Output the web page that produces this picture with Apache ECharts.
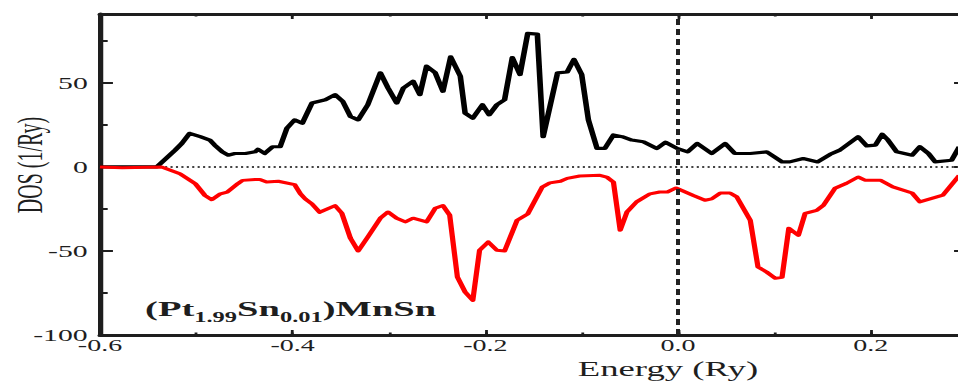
<!DOCTYPE html>
<html>
<head>
<meta charset="utf-8">
<script src="https://cdn.jsdelivr.net/npm/echarts@6/dist/echarts.min.js"></script>
<style>
  html, body { margin: 0; padding: 0; background: #fff; }
  #wrap { width: 958px; height: 382px; overflow: hidden; position: relative; }
  /* the figure is drawn narrow and stretched horizontally; its right edge runs past the frame */
  #chart { width: 560px; height: 382px; transform: scaleX(1.75); transform-origin: 0 0; }
</style>
</head>
<body>
<div id="wrap"><div id="chart"></div></div>
<script>
// Spin-up DOS (positive) and spin-down DOS (negative), energy in Ry
const upEnergy = [-0.600,-0.560,-0.541,-0.522,-0.515,-0.507,-0.496,-0.486,-0.481,-0.473,-0.467,-0.460,-0.449,-0.439,-0.436,-0.429,-0.421,-0.413,-0.406,-0.398,-0.390,-0.380,-0.366,-0.356,-0.348,-0.340,-0.332,-0.322,-0.309,-0.301,-0.292,-0.285,-0.275,-0.268,-0.261,-0.252,-0.244,-0.236,-0.226,-0.221,-0.213,-0.203,-0.196,-0.188,-0.180,-0.172,-0.164,-0.156,-0.146,-0.140,-0.125,-0.115,-0.108,-0.100,-0.093,-0.084,-0.076,-0.067,-0.058,-0.048,-0.036,-0.022,-0.013,-0.001,0.010,0.020,0.035,0.049,0.059,0.075,0.092,0.108,0.116,0.130,0.145,0.158,0.168,0.187,0.196,0.205,0.212,0.218,0.227,0.243,0.251,0.260,0.267,0.284,0.292];
const upDos = [0,0,0,10,14,20,18,16,13,9,7,8,8,9,10.5,8,12,12,23,28,26,38,40,43,39,30,28,37,56,47,38,47,51,43,60,56,45,65.5,54,32,29,37,31,37,40,65,55,79.5,79,18,56,56.5,64,55,28,11,11,19,18,16,15,11,14.7,11,9,14,8,14,8,8,9,3,3,5,3,7.5,10,18,12.5,13,19.5,16,9,7,12,8,3,4,12];

const downEnergy = [-0.600,-0.577,-0.536,-0.517,-0.501,-0.491,-0.484,-0.475,-0.468,-0.457,-0.452,-0.439,-0.434,-0.427,-0.415,-0.398,-0.392,-0.387,-0.380,-0.372,-0.356,-0.349,-0.340,-0.332,-0.322,-0.309,-0.301,-0.292,-0.283,-0.275,-0.261,-0.252,-0.244,-0.237,-0.229,-0.221,-0.213,-0.206,-0.197,-0.188,-0.180,-0.167,-0.156,-0.141,-0.133,-0.122,-0.115,-0.102,-0.081,-0.074,-0.067,-0.060,-0.053,-0.043,-0.029,-0.019,-0.011,-0.002,0.016,0.028,0.035,0.044,0.054,0.061,0.075,0.083,0.092,0.101,0.108,0.115,0.125,0.132,0.144,0.151,0.163,0.175,0.187,0.194,0.210,0.223,0.243,0.251,0.275,0.292];
const downDos = [0,-0.5,0,-4,-10,-17,-19.5,-16,-15,-10,-8,-7.5,-7.5,-9,-8.5,-10.5,-16,-19,-22,-27,-23,-27.5,-42.5,-50,-41.7,-30.5,-26.8,-30.5,-32.7,-30.5,-32.7,-24.6,-23,-28.7,-65.5,-74.4,-79.4,-49.6,-44.6,-49.6,-50,-31.7,-28,-12,-9.5,-8.5,-6.8,-5.4,-5,-6,-9,-37.7,-26.8,-20.8,-16,-14.9,-14.9,-12.5,-17,-19.8,-19,-15.5,-15.5,-17.8,-31.7,-59.5,-62.5,-66.3,-65.7,-36.5,-40.7,-27.6,-25.8,-22.8,-12.7,-9.7,-6,-7.9,-7.9,-11.9,-15.5,-20.8,-16.8,-5];

// Axis ranges and tick steps
const xMin = -0.6, xMax = 0.3, xMajor = 0.2, xMinor = 0.1;
const yMin = -100, yMax = 91, yMajor = 50, yMinor = 25;

const zip = (a, b) => a.slice(0, Math.min(a.length, b.length)).map((v, i) => [v, b[i]]);

const serif = "'Liberation Serif', 'Times New Roman', 'DejaVu Serif', serif";
const ink = '#1e1e1e';
const onStep = (v, step) => Math.abs(v / step - Math.round(v / step)) < 1e-6;

function xAxisDef(pos, major) {
  return {
    type: 'value', position: pos, min: xMin, max: xMax,
    interval: major ? xMajor : xMinor,
    axisLine: { show: major, onZero: false, lineStyle: { color: ink, width: 3 } },
    axisTick: { show: true, inside: true, length: major ? 5 : 2.5, lineStyle: { color: ink, width: 1.6 } },
    axisLabel: {
      show: major && pos === 'bottom', margin: 3, fontFamily: serif, fontSize: 16, color: ink,
      formatter: v => onStep(v, xMajor) ? v.toFixed(1) : ''
    },
    splitLine: { show: false }
  };
}
function yAxisDef(pos, major) {
  return {
    type: 'value', position: pos, min: yMin, max: yMax,
    interval: major ? yMajor : yMinor,
    axisLine: { show: major, onZero: false, lineStyle: { color: ink, width: 3 } },
    axisTick: { show: true, inside: true, length: major ? 7.4 : 4.4, lineStyle: { color: ink, width: 2 } },
    axisLabel: {
      show: major && pos === 'left', margin: 7, fontFamily: serif, fontSize: 17, color: ink,
      formatter: v => onStep(v, yMajor) ? String(Math.round(v)) : ''
    },
    splitLine: { show: false }
  };
}

const chart = echarts.init(document.getElementById('chart'), null, { renderer: 'svg' });
chart.setOption({
  animation: false,
  backgroundColor: '#fff',
  grid: { left: 57.14, right: 7.43, top: 14, bottom: 47, containLabel: false },
  xAxis: [xAxisDef('bottom', true), xAxisDef('top', true), xAxisDef('bottom', false), xAxisDef('top', false)],
  yAxis: [yAxisDef('left', true), yAxisDef('right', true), yAxisDef('left', false), yAxisDef('right', false)],
  series: [
    {
      name: 'zero', type: 'line', z: 1, silent: true, showSymbol: false,
      data: [[xMin, 0], [xMax, 0]],
      lineStyle: { color: '#444', width: 2, type: [1.2, 1.9] }
    },
    {
      name: 'spin up', type: 'line', z: 3, showSymbol: false,
      data: zip(upEnergy, upDos),
      lineStyle: { color: '#000', width: 3.2, join: 'round' }
    },
    {
      name: 'spin down', type: 'line', z: 3, showSymbol: false,
      data: zip(downEnergy, downDos),
      lineStyle: { color: '#ff0000', width: 3, join: 'round' }
    },
    {
      name: 'Fermi level', type: 'line', z: 4, silent: true, showSymbol: false,
      data: [[0, yMin], [0, yMax]],
      lineStyle: { color: '#222', width: 2.3, type: [6, 4] }
    }
  ],
  graphic: [
    {
      type: 'text', x: 381.7, y: 368.5,
      style: { text: 'Energy (Ry)', font: '21px ' + serif, fill: ink, textAlign: 'center', textVerticalAlign: 'middle' }
    },
    {
      type: 'text', x: 17.1, y: 165, rotation: Math.PI / 2,
      style: { text: 'DOS (1/Ry)', font: '20px ' + serif, fill: ink, textAlign: 'center', textVerticalAlign: 'middle' }
    },
    {
      type: 'text', x: 82.9, y: 309,
      style: {
        text: '{m|(Pt}{s|1.99}{m|Sn}{s|0.01}{m|)MnSn}',
        textVerticalAlign: 'middle',
        rich: {
          m: { fontFamily: serif, fontSize: 22, fontWeight: 'bold', fill: ink, lineHeight: 30, verticalAlign: 'middle' },
          s: { fontFamily: serif, fontSize: 14, fontWeight: 'bold', fill: ink, lineHeight: 14, verticalAlign: 'bottom' }
        }
      }
    }
  ]
});
</script>
</body>
</html>
